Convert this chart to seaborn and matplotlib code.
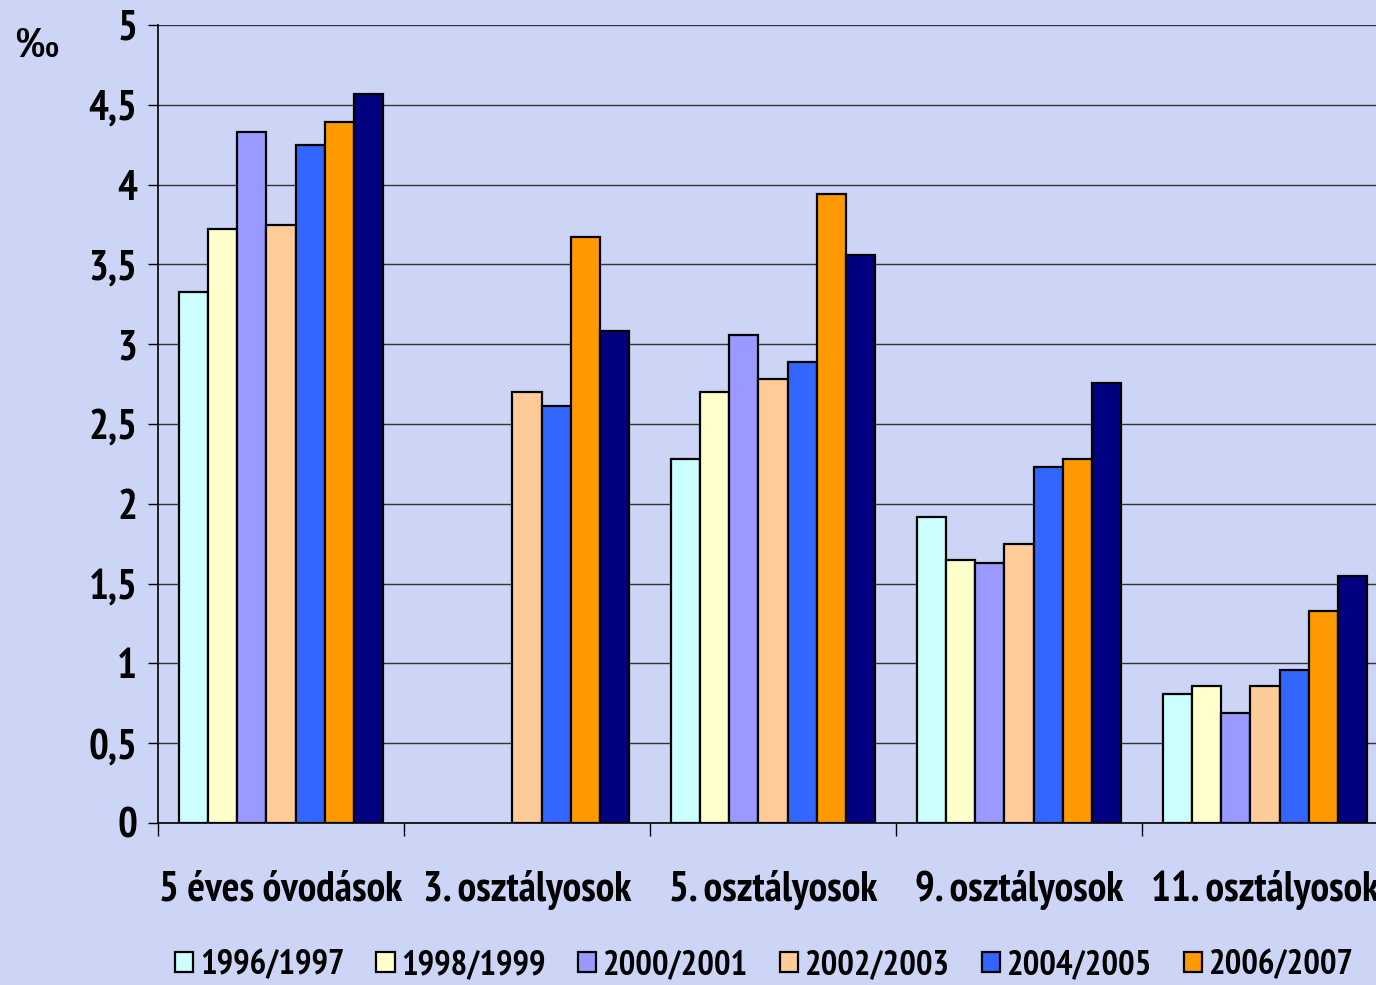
import matplotlib
matplotlib.use("Agg")
import matplotlib.pyplot as plt
import numpy as np
import pandas as pd
import seaborn as sns

categories = ["5 éves óvodások", "3. osztályosok", "5. osztályosok", "9. osztályosok", "11. osztályosok"]
years = ["1996/1997", "1998/1999", "2000/2001", "2002/2003", "2004/2005", "2006/2007", "2008/2009"]
colors = ["#CCFFFF", "#FFFFCC", "#9999FF", "#FFCC99", "#3366FF", "#FF9900", "#000080"]
ytick_labels = ["0", "0,5", "1", "1,5", "2", "2,5", "3", "3,5", "4", "4,5", "5"]

# values per year, one entry per category (NaN = no data)
v1996 = [3.33, np.nan, 2.28, 1.92, 0.81]
v1998 = [3.72, np.nan, 2.70, 1.65, 0.86]
v2000 = [4.33, np.nan, 3.06, 1.63, 0.69]
v2002 = [3.75, 2.70, 2.78, 1.75, 0.86]
v2004 = [4.25, 2.61, 2.89, 2.23, 0.96]
v2006 = [4.39, 3.67, 3.94, 2.28, 1.33]
v2008 = [4.57, 3.08, 3.56, 2.76, 1.55]

series = [v1996, v1998, v2000, v2002, v2004, v2006, v2008]
df = pd.concat([pd.DataFrame({"kat": categories, "ev": y, "ertek": v}) for y, v in zip(years, series)])
df = df.dropna()

sns.set_theme(style="white")
plt.rcParams["font.family"] = ["PT Sans Narrow", "Roboto Condensed", "DejaVu Sans"]
plt.rcParams["font.weight"] = "bold"

bg = "#cdd5f7"
fig = plt.figure(figsize=(13.76, 9.85), dpi=100, facecolor=bg)
# the plot area runs past the right edge of the picture, as in the original
ax = fig.add_axes([158 / 1376, 1 - 823 / 985, (1388 - 158) / 1376, (823 - 25) / 985])
ax.set_facecolor(bg)

sns.barplot(data=df, x="kat", y="ertek", hue="ev", order=categories, hue_order=years,
            palette=colors, width=0.83, edgecolor="black", linewidth=1.6,
            saturation=1, ax=ax, legend=True)

ax.set_ylim(0, 5)
ax.set_xlim(-0.5, 4.5)
ax.set_yticks(np.arange(0, 5.01, 0.5))
ax.set_yticklabels(ytick_labels)
ax.yaxis.grid(True, color="#333333", linewidth=1.0)
ax.set_axisbelow(True)
for s in ["top", "right"]:
    ax.spines[s].set_visible(False)
for s in ["left", "bottom"]:
    ax.spines[s].set_color("black")
    ax.spines[s].set_linewidth(1.2)

ax.tick_params(axis="y", left=True, length=7, width=1, color="black", labelsize=30, pad=8,
               labelcolor="black")
ax.set_xticks(np.arange(-0.5, 4.6, 1), minor=True)
ax.tick_params(axis="x", which="minor", bottom=True, length=9, width=1, color="black")
ax.tick_params(axis="x", which="major", length=0, labelsize=30, pad=34, labelcolor="black")
ax.set_xlabel("")
ax.set_ylabel("")

fig.text(15 / 1376, 1 - 46 / 985, "‰", fontsize=31, fontweight="bold", va="center", ha="left",
         color="black", family=["Liberation Sans", "DejaVu Sans"])

handles, labels = ax.get_legend_handles_labels()
ax.get_legend().remove()
fig.legend(handles, labels, loc="center left", bbox_to_anchor=(175 / 1376, 1 - 965 / 985),
           ncol=7, frameon=False, handlelength=0.52, handleheight=0.52,
           handletextpad=0.2, columnspacing=0.92, borderaxespad=0, borderpad=0,
           labelcolor="black", prop={"weight": "bold", "size": 25})

fig.savefig("out.png", dpi=100, facecolor=bg)
